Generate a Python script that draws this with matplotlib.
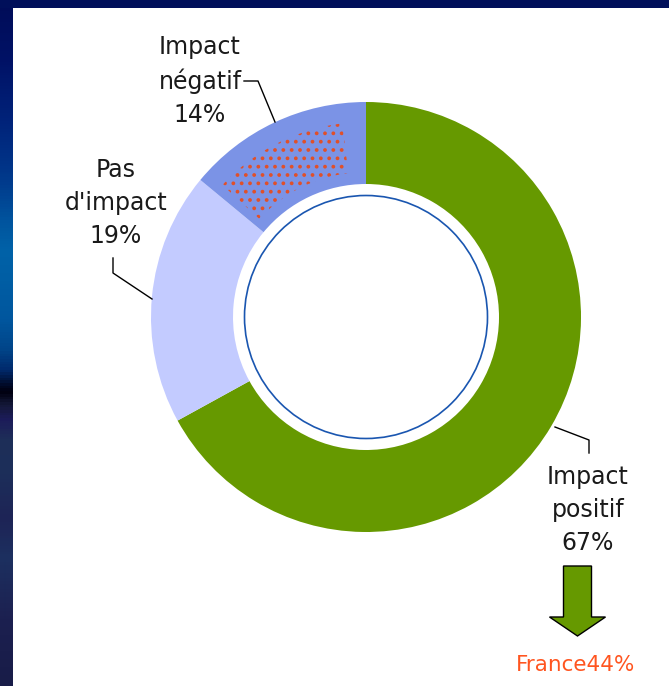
import numpy as np
import matplotlib
matplotlib.use("Agg")
import matplotlib.pyplot as plt
from matplotlib import patches
from matplotlib.colors import LinearSegmentedColormap

# ---- data ----
categories = ["Impact\npositif", "Pas\nd'impact", "Impact\nnégatif"]
values = [67, 19, 14]
colors = ["#669900", "#c3cbff", "#7b93e6"]
france_label = "France"
france_value = 44

W, H = 669, 686
fig = plt.figure(figsize=(W / 100, H / 100), dpi=100, facecolor="#000f5a")
ax = fig.add_axes([0, 0, 1, 1])

def Y(y):
    return H - y

# left gradient strip
stops = [(0, "#000c58"), (60, "#001266"), (120, "#00237a"), (180, "#003a8c"),
         (220, "#00549e"), (250, "#0062a8"), (280, "#005ea4"), (320, "#00569e"),
         (350, "#004488"), (370, "#002a6c"), (385, "#000a28"), (392, "#000010"),
         (405, "#141838"), (420, "#1c1c5a"), (440, "#1e2e58"), (470, "#1c2f5a"),
         (520, "#1e2456"), (560, "#1c3060"), (620, "#1c2050"), (686, "#181c48")]
cmap = LinearSegmentedColormap.from_list("strip", [(s / H, c) for s, c in stops])
grad = np.linspace(0, 1, H).reshape(-1, 1)
ax.imshow(grad, cmap=cmap, aspect="auto", extent=(0, 13, 0, H), origin="upper",
          interpolation="bilinear", zorder=0)
ax.add_patch(patches.Rectangle((0, Y(8)), W, 8, color="#000f5a", zorder=0.5, lw=0))
ax.add_patch(patches.Rectangle((13, 0), W - 13, Y(8), color="white", zorder=1, lw=0))

cx, cy = 366, 317
R, r_in = 215, 133
wedges, _ = ax.pie(values, colors=colors, startangle=90, counterclock=False,
                   center=(cx, Y(cy)), radius=R,
                   wedgeprops=dict(width=R - r_in, linewidth=0, zorder=2))
for w in wedges:
    w.set_zorder(2)

# hatch overlay on the negative slice
plt.rcParams["hatch.linewidth"] = 1.5
neg = wedges[2]
ax.add_patch(patches.Wedge((cx, Y(cy)), R - 20, neg.theta1 + 7, neg.theta2 - 3,
                           width=R - r_in - 32, facecolor="none",
                           edgecolor="#e0502a", hatch="..", linewidth=0, zorder=3))

# inner blue ring
ax.add_patch(patches.Circle((cx, Y(cy)), 121.5, facecolor="white",
                            edgecolor="#1a56b0", linewidth=1.2, zorder=3))

# labels
txt = dict(fontsize=17, family="DejaVu Sans", color="#1a1a1a", ha="center",
           va="center", linespacing=1.45, zorder=5)
ax.text(200, Y(81), f"{categories[2]}\n{values[2]}%", **txt)
ax.text(116, Y(203), f"{categories[1]}\n{values[1]}%", **txt)
ax.text(588, Y(510), f"{categories[0]}\n{values[0]}%", **txt)

# leader lines
lk = dict(color="black", linewidth=1.0, zorder=5)
ax.plot([244, 258, 275], [Y(81), Y(81), Y(122)], **lk)
ax.plot([113, 113, 152], [Y(258), Y(273), Y(299)], **lk)
ax.plot([555, 589, 589], [Y(427), Y(440), Y(453)], **lk)

# arrow
ax.add_patch(patches.FancyArrow(577.5, Y(566), 0, -(636 - 566), width=28,
                                head_width=56, head_length=19,
                                length_includes_head=True, facecolor="#669900",
                                edgecolor="black", linewidth=1.0, zorder=5))
ax.text(576, Y(665), f"{france_label}{france_value}%", fontsize=15.5,
        family="DejaVu Sans", color="#ff5520", ha="center", va="center", zorder=5)

ax.set_xlim(0, W)
ax.set_ylim(0, H)
ax.set_aspect("auto")
ax.axis("off")
fig.savefig("out.png", dpi=100, facecolor=fig.get_facecolor())
